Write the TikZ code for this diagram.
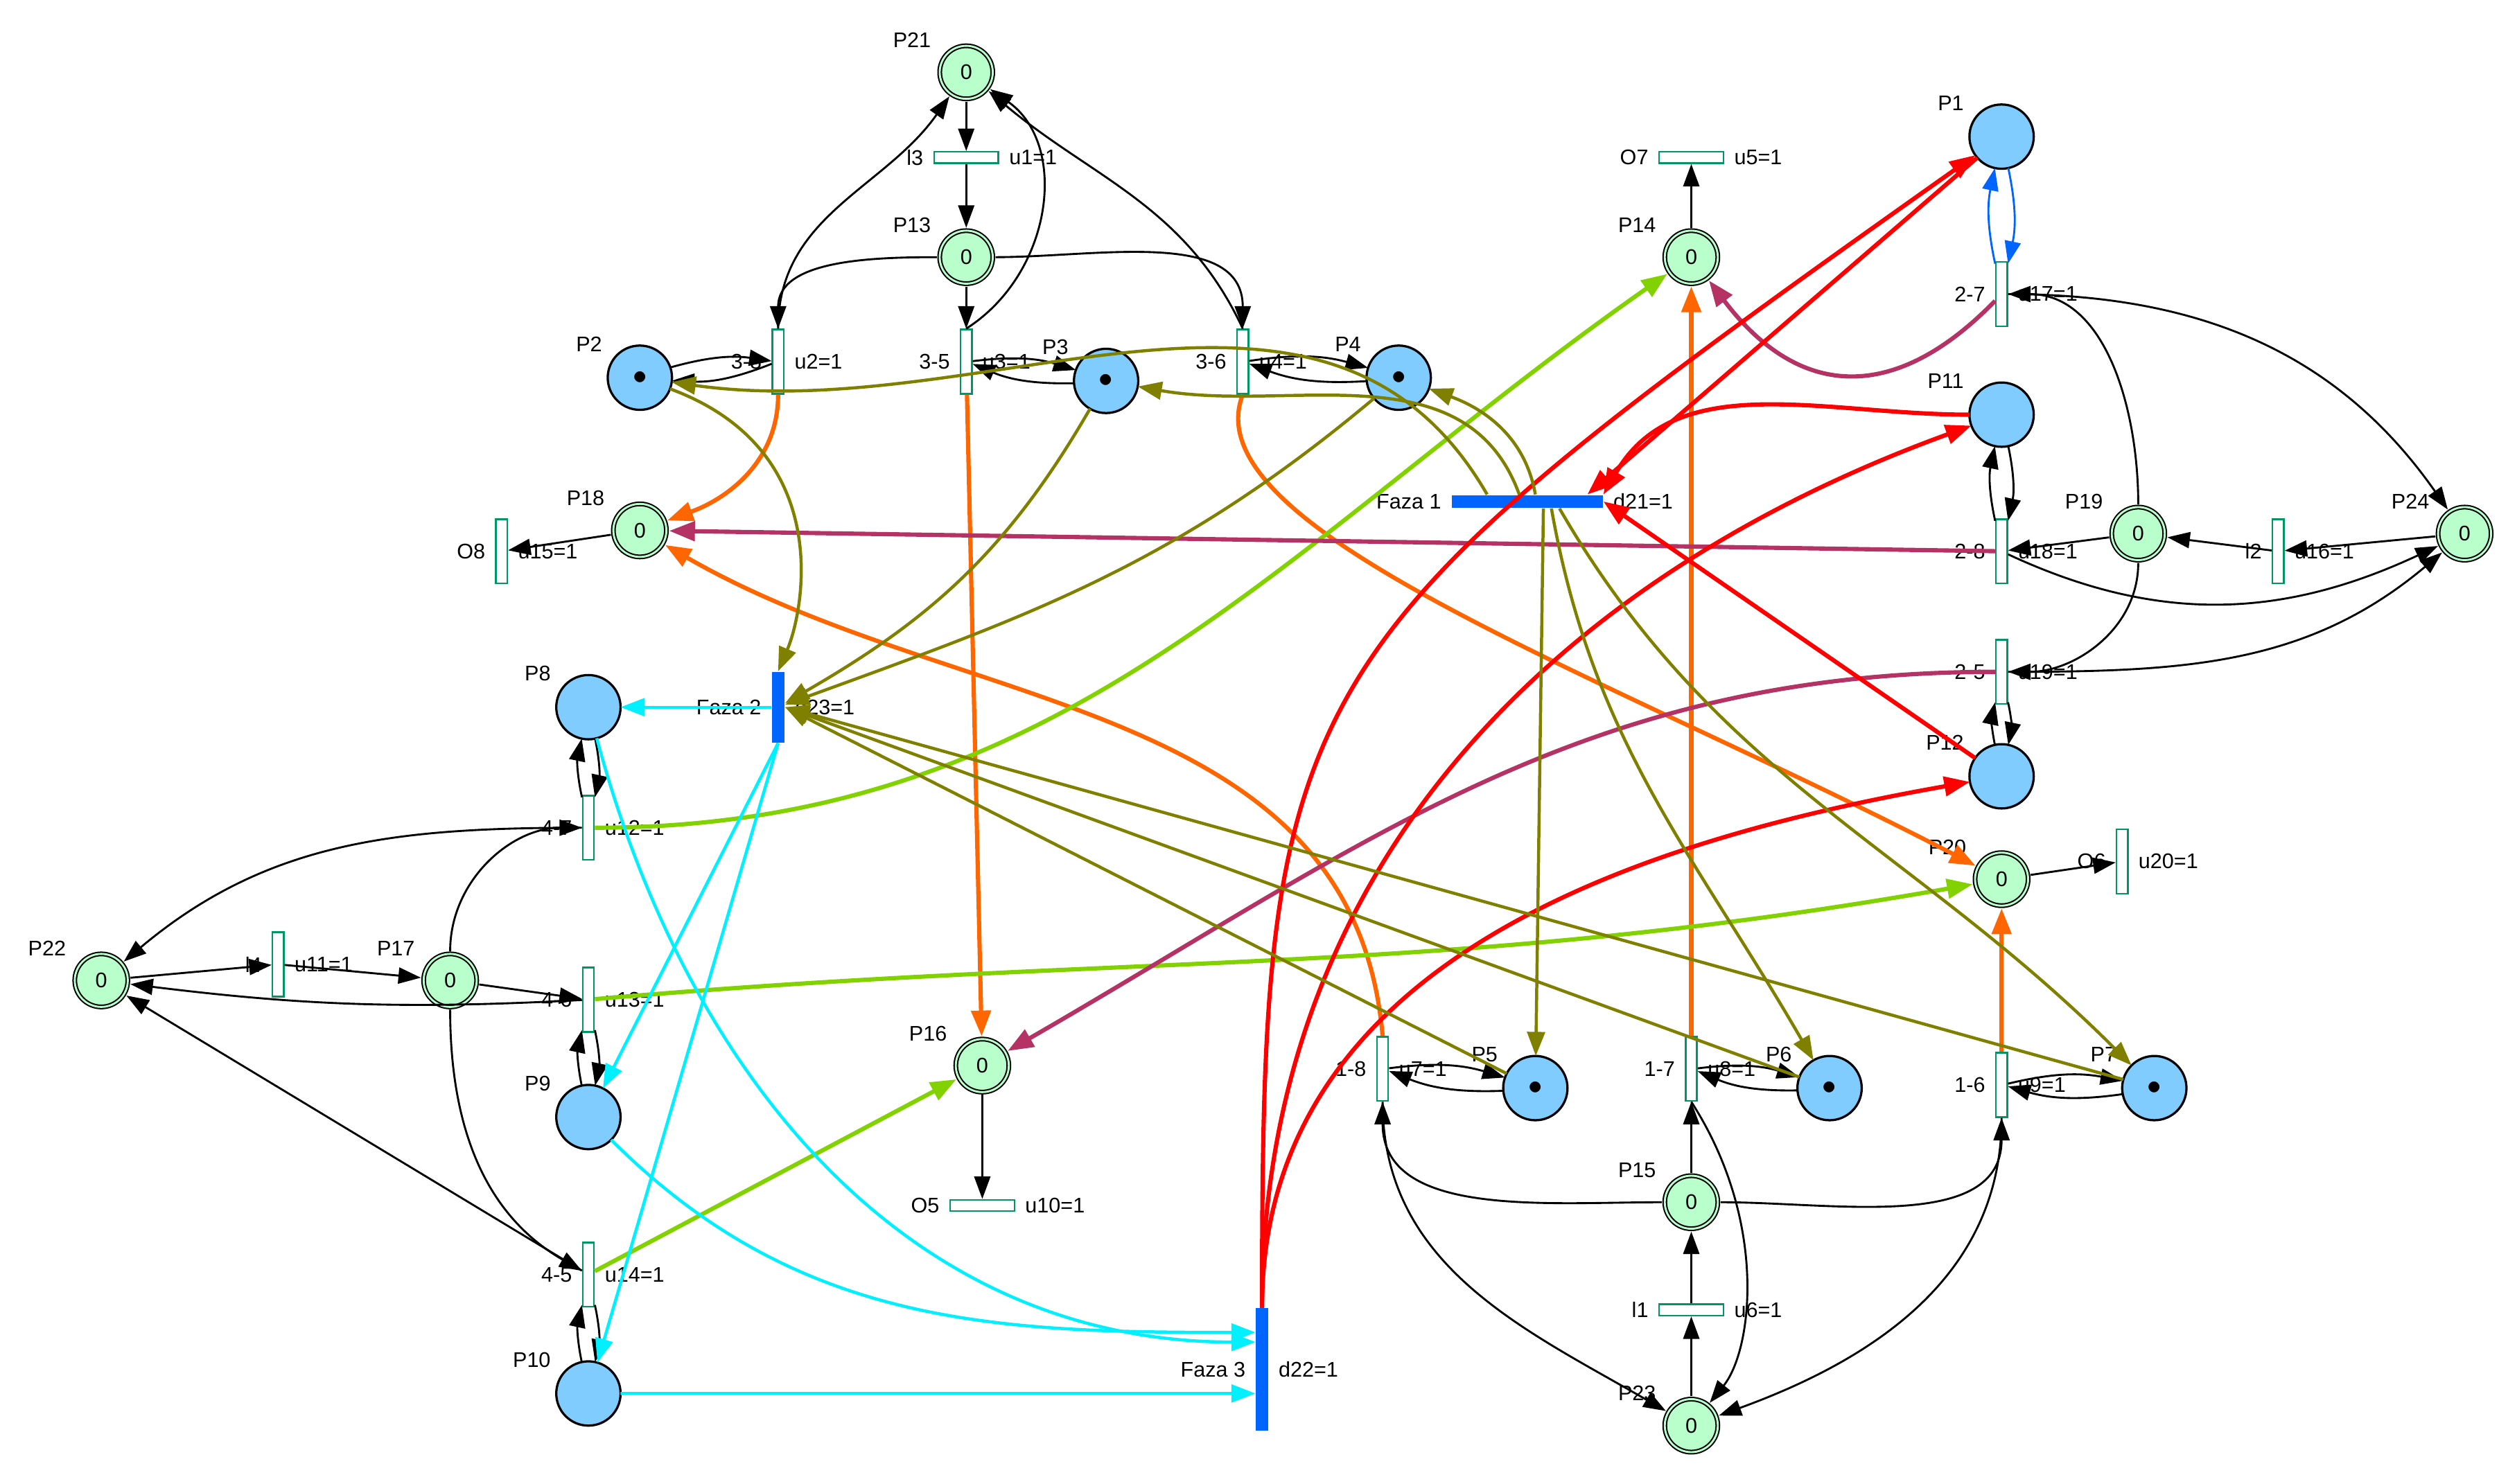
\documentclass[tikz,border=0pt]{standalone}
\usepackage{fontspec}
\setmainfont{Liberation Sans}
\usepackage{tikz}
\usetikzlibrary{arrows.meta,shapes,calc,positioning}
\definecolor{verdeP}{RGB}{184,255,204}
\definecolor{azulP}{RGB}{128,204,255}
\definecolor{verdeT}{RGB}{0,150,100}
\definecolor{azulF}{RGB}{0,100,255}
\definecolor{naranja}{RGB}{255,102,0}
\definecolor{magenta2}{RGB}{180,50,100}
\definecolor{oliva}{RGB}{128,128,0}
\definecolor{lima}{RGB}{130,210,0}
\definecolor{cian}{RGB}{0,240,255}
\tikzstyle{arc}   =[-{Triangle[length=0.28cm,width=0.2cm]}, line width=0.7pt]
\tikzstyle{warc}  =[-{Triangle[length=0.32cm,width=0.24cm]}, line width=1.5pt]
\tikzstyle{marc}  =[-{Triangle[length=0.3cm,width=0.22cm]}, line width=1.1pt]
\tikzstyle{place} =[circle, draw, fill=verdeP, minimum size=0.66cm,
                    line width=0.5pt, double=verdeP, double distance=0.7pt,
                    inner sep=0pt, outer sep=1pt, label distance=-5pt]
\tikzstyle{bplace}=[circle, draw, fill=azulP, minimum size=0.8cm,
                    line width=0.8pt, inner sep=0pt, outer sep=0pt,
                    label distance=-5pt]
\tikzstyle{tok}   =[bplace, font=\normalsize]
\tikzstyle{trans} =[rectangle, draw=verdeT, fill=white, line width=0.6pt,
                    minimum width=0.14cm, minimum height=0.8cm, inner sep=0pt,
                    label distance=1pt]
\tikzstyle{htrans}=[trans, minimum width=0.8cm, minimum height=0.14cm]
\tikzstyle{faza}  =[rectangle, fill=azulF, inner sep=0pt, label distance=1pt]

\begin{document}
\begin{tikzpicture}[x=0.02cm, y=0.02cm, font=\fontsize{7.5}{9}\selectfont]
    \useasboundingbox (0,0) rectangle (1560,-923);

    % places
    \draw (601,-45) node (P21) [place,label=150:P21] {0};
    \draw (601,-160) node (P13) [place,label=150:P13] {0};
    \draw (1052,-160) node (P14) [place,label=150:P14] {0};
    \draw (398,-330) node (P18) [place,label=150:P18] {0};
    \draw (1330,-332) node (P19) [place,label=150:P19] {0};
    \draw (1533,-332) node (P24) [place,label=150:P24] {0};
    \draw (63,-610) node (P22) [place,label=150:P22] {0};
    \draw (280,-610) node (P17) [place,label=150:P17] {0};
    \draw (611,-663) node (P16) [place,label=150:P16] {0};
    \draw (1245,-547) node (P20) [place,label=150:P20] {0};
    \draw (1052,-748) node (P15) [place,label=150:P15] {0};
    \draw (1052,-887) node (P23) [place,label=150:P23] {0};

    \draw (1245,-85) node (P1) [bplace,label=150:P1] {};
    \draw (398,-235) node (P2) [tok,label=150:P2] {$\bullet$};
    \draw (688,-237) node (P3) [tok,label=150:P3] {$\bullet$};
    \draw (870,-235) node (P4) [tok,label=150:P4] {$\bullet$};
    \draw (1245,-258) node (P11) [bplace,label=150:P11] {};
    \draw (1245,-483) node (P12) [bplace,label=150:P12] {};
    \draw (366,-440) node (P8) [bplace,label=150:P8] {};
    \draw (366,-695) node (P9) [bplace,label=150:P9] {};
    \draw (366,-867) node (P10) [bplace,label=150:P10] {};
    \draw (955,-677) node (P5) [tok,label=150:P5] {$\bullet$};
    \draw (1138,-677) node (P6) [tok,label=150:P6] {$\bullet$};
    \draw (1340,-677) node (P7) [tok,label=150:P7] {$\bullet$};

    % transitions
    \draw (484,-225) node (t38) [trans,label={180:3-8},label={0:u2=1}] {};
    \draw (601,-225) node (t35) [trans,label={180:3-5},label={0:u3=1}] {};
    \draw (773,-225) node (t36) [trans,label={180:3-6},label={0:u4=1}] {};
    \draw (1245,-183) node (t27) [trans,label={180:2-7},label={0:u17=1}] {};
    \draw (1245,-343) node (t28) [trans,label={180:2-8},label={0:u18=1}] {};
    \draw (1245,-418) node (t25) [trans,label={180:2-5},label={0:u19=1}] {};
    \draw (366,-515) node (t47) [trans,label={180:4-7},label={0:u12=1}] {};
    \draw (366,-622) node (t46) [trans,label={180:4-6},label={0:u13=1}] {};
    \draw (366,-793) node (t45) [trans,label={180:4-5},label={0:u14=1}] {};
    \draw (860,-665) node (t18) [trans,label={180:1-8},label={0:u7=1}] {};
    \draw (1052,-665) node (t17) [trans,label={180:1-7},label={0:u8=1}] {};
    \draw (1245,-675) node (t16) [trans,label={180:1-6},label={0:u9=1}] {};
    \draw (312,-343) node (tO8) [trans,label={180:O8},label={0:u15=1}] {};
    \draw (1417,-343) node (tl2) [trans,label={180:l2},label={0:u16=1}] {};
    \draw (173,-600) node (tl4) [trans,label={180:l4},label={0:u11=1}] {};
    \draw (1320,-536) node (tO6) [trans,label={180:O6},label={0:u20=1}] {};
    \draw (601,-98) node (tl3) [htrans,label={180:l3},label={0:u1=1}] {};
    \draw (1052,-98) node (tO7) [htrans,label={180:O7},label={0:u5=1}] {};
    \draw (611,-750) node (tO5) [htrans,label={180:O5},label={0:u10=1}] {};
    \draw (1052,-815) node (tl1) [htrans,label={180:l1},label={0:u6=1}] {};
    \draw (950,-312) node (F1) [faza,minimum width=1.88cm,minimum height=0.16cm,
        label={180:Faza 1},label={0:d21=1}] {};
    \draw (484,-440) node (F2) [faza,minimum width=0.16cm,minimum height=0.88cm,
        label={180:Faza 2},label={0:d23=1}] {};
    \draw (785,-852) node (F3) [faza,minimum width=0.15cm,minimum height=1.52cm,
        label={180:Faza 3},label={0:d22=1}] {};

    % black arcs
    \foreach \i/\j in {P21/tl3,tl3/P13,P13/t35,P24/tl2,tl2/P19,P19/t28,
        P18/tO8,P14/tO7,P16/tO5,P20/tO6,P23/tl1,tl1/P15,P15/t17,
        P22/tl4,tl4/P17,P17/t46,t45/P22}
        \draw [arc] (\i) -- (\j);
    \foreach \i/\j in {P2/t38,P3/t35,P4/t36,P5/t18,P6/t17,P7/t16,
        P8/t47,P9/t46,P10/t45,P11/t28,P12/t25}
        {\draw [arc] (\i) to[bend left=12] (\j);
         \draw [arc] (\j) to[bend left=12] (\i);}
    \draw [arc] (P13) to[out=180,in=90] (t38);
    \draw [arc] (P13) to[out=0,in=90] (t36);
    \draw [arc] (t38.north) to[out=90,in=235] (P21);
    \draw [arc] (t35.north) .. controls (655,-170) and (665,-90) .. (P21);
    \draw [arc] (t36.north) to[out=115,in=-40] (P21);
    \draw [arc] (t27) to[out=0,in=125] (P24);
    \draw [arc] (P19) to[out=90,in=0] (t27);
    \draw [arc] (t28) to[out=-25,in=205] (P24);
    \draw [arc] (P19) to[out=-90,in=0] (t25);
    \draw [arc] (t25) to[out=0,in=220] (P24);
    \draw [arc] (P15) to[out=180,in=-90] (t18);
    \draw [arc] (P15) to[out=0,in=-90] (t16);
    \draw [arc] (t18.south) to[out=-90,in=150] (P23);
    \draw [arc] (t17.south) .. controls (1100,-760) and (1090,-840) .. (P23);
    \draw [arc] (t16.south) to[out=-90,in=20] (P23);
    \draw [arc] (P17) to[out=90,in=180] (t47);
    \draw [arc] (P17) to[out=-90,in=150] (t45);
    \draw [arc] (t47) to[out=180,in=40] (P22);
    \draw [arc] (t46) to[bend left=5] (P22);
    \draw [arc,azulF] (P1) to[bend left=12] (t27);
    \draw [arc,azulF] (t27) to[bend left=12] (P1);

    % orange, lime, magenta
    \draw [warc,naranja] (t38.south) to[out=-90,in=20] (P18);
    \draw [warc,naranja] (t35) -- (P16);
    \draw [warc,naranja] (t36.south) .. controls (740,-330) and (1000,-420) .. (P20);
    \draw [warc,naranja] (t18.north) to[out=95,in=-30] (P18);
    \draw [warc,naranja] (t17) -- (P14);
    \draw [warc,naranja] (t16) -- (P20);
    \draw [warc,lima] (t47) to[out=0,in=215] (P14);
    \draw [warc,lima] (t46) to[out=5,in=190] (P20);
    \draw [warc,lima] (t45) -- (P16);
    \draw [warc,magenta2] (t28) -- (P18);
    \draw [warc,magenta2] (t27) .. controls (1180,-250) and (1120,-250) .. (P14);
    \draw [warc,magenta2] (t25) to[out=180,in=30] (P16);

    % red
    \draw [warc,red] (P1) -- ([xshift=-0.2cm]F1.north east);
    \draw [warc,red] (P11) to[out=180,in=60] (F1.north east);
    \draw [warc,red] (P12) -- (F1.east);
    \draw [warc,red] (F3.north) .. controls (785,-420) and (800,-400) .. (P1);
    \draw [warc,red] (F3.north) to[out=90,in=200] (P11);
    \draw [warc,red] (F3.north) to[out=90,in=190] (P12);

    % olive
    \draw [marc,oliva] ([xshift=-0.5cm]F1.north) to[out=120,in=-8] (P2);
    \draw [marc,oliva] ([xshift=-0.1cm]F1.north) to[out=110,in=-10] (P3);
    \draw [marc,oliva] ([xshift=0.1cm]F1.north) to[out=100,in=-20] (P4);
    \draw [marc,oliva] ([xshift=0.2cm]F1.south) -- (P5);
    \draw [marc,oliva] ([xshift=0.3cm]F1.south) to[out=-80,in=120] (P6);
    \draw [marc,oliva] ([xshift=0.4cm]F1.south) to[out=-60,in=135] (P7);
    \draw [marc,oliva] (P2) .. controls (520,-280) and (500,-380) .. (F2.north);
    \draw [marc,oliva] (P3) to[out=240,in=30] (F2);
    \draw [marc,oliva] (P4) to[out=220,in=20] (F2);
    \foreach \i in {P5,P6,P7}
        \draw [marc,oliva] (\i) -- (F2.east);

    % cyan
    \draw [marc,cian] (F2) -- (P8);
    \draw [marc,cian] (F2.south) -- (P9);
    \draw [marc,cian] (F2.south) -- (P10);
    \draw [marc,cian] (P8) to[out=-75,in=180] ([yshift=0.34cm]F3.west);
    \draw [marc,cian] (P9) to[out=-45,in=180] ([yshift=0.46cm]F3.west);
    \draw [marc,cian] (P10) -- ([yshift=-0.3cm]F3.west);
\end{tikzpicture}
\end{document}
